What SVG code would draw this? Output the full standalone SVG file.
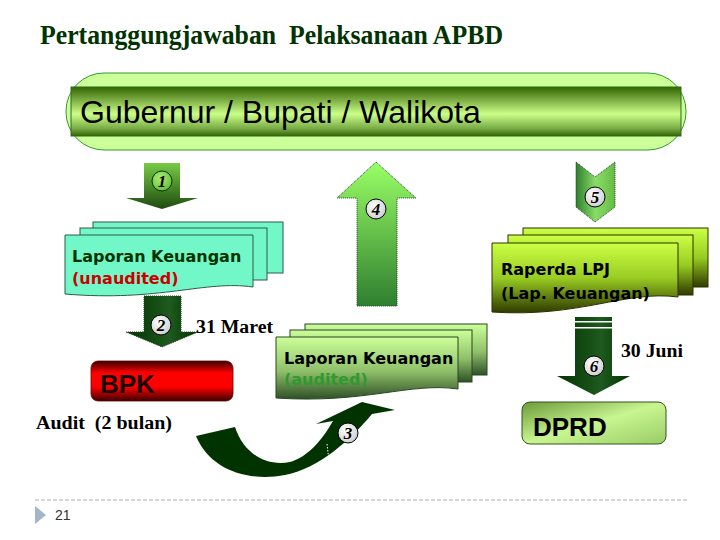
<svg xmlns="http://www.w3.org/2000/svg" width="720" height="540" viewBox="0 0 720 540">
<defs>
<linearGradient id="band" x1="0" y1="0" x2="0" y2="1">
<stop offset="0" stop-color="#336600"/><stop offset="0.2" stop-color="#6a9a33"/><stop offset="0.55" stop-color="#ccff88"/><stop offset="0.85" stop-color="#77aa44"/><stop offset="1" stop-color="#336600"/>
</linearGradient>
<linearGradient id="gDown1" x1="0" y1="0" x2="0" y2="1">
<stop offset="0" stop-color="#77cc44"/><stop offset="1" stop-color="#1f4a10"/>
</linearGradient>
<linearGradient id="gUp" x1="0" y1="0" x2="0" y2="1">
<stop offset="0" stop-color="#99ff66"/><stop offset="1" stop-color="#2f7f2f"/>
</linearGradient>
<linearGradient id="gChev" x1="0" y1="0" x2="1" y2="0">
<stop offset="0" stop-color="#2f7f2f"/><stop offset="0.5" stop-color="#88dd66"/><stop offset="1" stop-color="#66bb44"/>
</linearGradient>
<linearGradient id="gDarkH" x1="0" y1="0" x2="1" y2="0">
<stop offset="0" stop-color="#003300"/><stop offset="0.6" stop-color="#1f5a1f"/><stop offset="1" stop-color="#003300"/>
</linearGradient>
<linearGradient id="gRap" x1="0" y1="0" x2="0" y2="1">
<stop offset="0" stop-color="#ccff44"/><stop offset="0.5" stop-color="#99cc22"/><stop offset="1" stop-color="#2f3a00"/>
</linearGradient>
<linearGradient id="gAud" x1="0" y1="0" x2="0" y2="1">
<stop offset="0" stop-color="#ccff99"/><stop offset="0.55" stop-color="#8fc06a"/><stop offset="1" stop-color="#2f5026"/>
</linearGradient>
<linearGradient id="gBpk" x1="0" y1="0" x2="0" y2="1">
<stop offset="0" stop-color="#3a0000"/><stop offset="0.3" stop-color="#ff0000"/><stop offset="0.65" stop-color="#ff0000"/><stop offset="1" stop-color="#3a0000"/>
</linearGradient>
<linearGradient id="gDprd" x1="0" y1="0" x2="1" y2="1">
<stop offset="0" stop-color="#6b9a3a"/><stop offset="0.5" stop-color="#c8f590"/><stop offset="1" stop-color="#99cc66"/>
</linearGradient>
<radialGradient id="gBall" cx="0.4" cy="0.35" r="0.7">
<stop offset="0" stop-color="#ffffff"/><stop offset="1" stop-color="#cccccc"/>
</radialGradient>
<radialGradient id="gBallG" cx="0.4" cy="0.35" r="0.7">
<stop offset="0" stop-color="#aaee77"/><stop offset="1" stop-color="#66bb33"/>
</radialGradient>
</defs>
<style>
.ttl{font-family:"Liberation Serif",serif;font-weight:bold;fill:#003300;white-space:pre}
.lbl{font-family:"DejaVu Sans",Verdana,sans-serif;font-weight:bold;font-size:16px}
.note{font-family:"Liberation Serif","Times New Roman",serif;font-weight:bold;font-size:18px;fill:#000;white-space:pre}
.num{font-family:"Liberation Serif",serif;font-weight:bold;font-style:italic;font-size:17px;fill:#000;text-anchor:middle}
.ball{fill:url(#gBall);stroke:#000;stroke-width:1}
.aq{fill:#72f7c8;stroke:#2a5a4a;stroke-width:1}
.rap{fill:url(#gRap);stroke:#2a3300;stroke-width:1}
.aud{fill:url(#gAud);stroke:#2a4422;stroke-width:1}
.dot{stroke:#224422;stroke-width:1;stroke-dasharray:1 1}
</style>
<rect width="720" height="540" fill="#ffffff"/>
<text class="ttl" x="40" y="44" font-size="28" textLength="463" lengthAdjust="spacingAndGlyphs" xml:space="preserve">Pertanggungjawaban  Pelaksanaan APBD</text>

<g id="gubernur">
<rect x="66" y="73" width="620" height="77" rx="38" fill="#ccff99" stroke="#339933" stroke-width="1"/>
<rect x="71" y="87" width="610" height="49" fill="url(#band)" stroke="#2f6a1f" stroke-width="1"/>
<text x="80" y="123" font-family="Liberation Sans,Arial,sans-serif" font-size="32" fill="#000">Gubernur / Bupati / Walikota</text>
</g>

<g id="connectors">
<g id="arrow1">
<path d="M144,163 H180 V198 H198 L162,209 L126,198 H144 Z" fill="url(#gDown1)"/>
<circle cx="162" cy="181" r="10" fill="url(#gBallG)" stroke="#003300" stroke-width="1"/>
<text class="num" x="162" y="187">1</text>
</g>
<g id="arrow4">
<path class="dot" d="M376,162 L416,198 H397 V306 H357 V198 H337 Z" fill="url(#gUp)"/>
<circle class="ball" cx="376" cy="209" r="10"/>
<text class="num" x="376" y="215">4</text>
</g>
<g id="arrow5">
<path class="dot" d="M576,162 L595,177 L615,162 V207 L595,222 L576,207 Z" fill="url(#gChev)"/>
<circle class="ball" cx="595" cy="197" r="10"/>
<text class="num" x="595" y="203">5</text>
</g>
<g id="arrow2">
<path class="dot" d="M144,296 H181 V332 H198 L162,347 L126,332 H144 Z" fill="url(#gDarkH)"/>
<circle class="ball" cx="161" cy="325" r="10"/>
<text class="num" x="161" y="331" font-style="normal">2</text>
</g>
<g id="arrow6">
<path d="M575,317 H612 V376 H630 L594,395 L557,376 H575 Z" fill="url(#gDarkH)"/>
<rect x="575" y="321" width="37" height="1.5" fill="#ffffff"/>
<rect x="575" y="327" width="37" height="1.5" fill="#ffffff"/>
<circle class="ball" cx="594" cy="366" r="10"/>
<text class="num" x="594" y="372">6</text>
</g>
<g id="arrow3">
<path d="M196,436 C210,470 248,482 285,475 C320,468 350,440 372,414 L395,410 L362,402 L316,424 L333,421 C322,440 308,457 290,462 C265,467 243,452 235,427 Z" fill="#003300"/>
<line x1="327" y1="444" x2="329" y2="461" stroke="#ffffff" stroke-width="1" stroke-dasharray="1.5 1.5"/>
<circle class="ball" cx="348" cy="433" r="10"/>
<text class="num" x="348" y="439">3</text>
</g>
</g>

<g id="lk-unaudited">
<rect class="aq" x="93" y="222" width="190" height="51"/>
<rect class="aq" x="80" y="228" width="187" height="52"/>
<path class="aq" d="M65,235 H253 V287 C205,280 160,302 65,294 Z"/>
<text class="lbl" x="72" y="262" fill="#003300">Laporan Keuangan</text>
<text class="lbl" x="72" y="284" fill="#cc0000">(unaudited)</text>
</g>

<g id="raperda">
<rect class="rap" x="523" y="228" width="185" height="59"/>
<rect class="rap" x="508" y="235" width="185" height="60"/>
<path class="rap" d="M492,243 H678 V297 C625,290 580,318 492,312 Z"/>
<text class="lbl" x="501" y="275" fill="#000">Raperda LPJ</text>
<text class="lbl" x="501" y="299" fill="#000">(Lap. Keuangan)</text>
</g>

<g id="lk-audited">
<rect class="aud" x="305" y="324" width="182" height="51"/>
<rect class="aud" x="290" y="330" width="182" height="52"/>
<path class="aud" d="M276,337 H458 V389 C410,382 365,404 276,398 Z"/>
<text class="lbl" x="284" y="364" fill="#000">Laporan Keuangan</text>
<text class="lbl" x="284" y="385" fill="#2f9a2f">(audited)</text>
</g>

<g id="bpk">
<rect x="91" y="361" width="142" height="40" rx="7" fill="url(#gBpk)" stroke="#660000" stroke-width="0.8"/>
<text x="100" y="393" font-family="Liberation Sans,Arial,sans-serif" font-weight="bold" font-size="26" fill="#1a0000">BPK</text>
</g>

<g id="dprd">
<rect x="522" y="402" width="144" height="42" rx="8" fill="url(#gDprd)" stroke="#335522" stroke-width="1"/>
<text x="533" y="436" font-family="Liberation Sans,Arial,sans-serif" font-weight="bold" font-size="26" fill="#000">DPRD</text>
</g>

<text class="note" x="196" y="333" textLength="77" lengthAdjust="spacingAndGlyphs">31 Maret</text>
<text class="note" x="36" y="429" textLength="136" lengthAdjust="spacingAndGlyphs" xml:space="preserve">Audit  (2 bulan)</text>
<text class="note" x="621" y="357" textLength="62" lengthAdjust="spacingAndGlyphs">30 Juni</text>

<line x1="35" y1="500" x2="688" y2="500" stroke="#b0b0b0" stroke-width="1" stroke-dasharray="4 2"/>
<path d="M35,506 L46,515 L35,524 Z" fill="#a3b5c9"/>
<text x="55" y="520" font-family="Liberation Sans,Arial,sans-serif" font-size="14" fill="#333">21</text>
</svg>
